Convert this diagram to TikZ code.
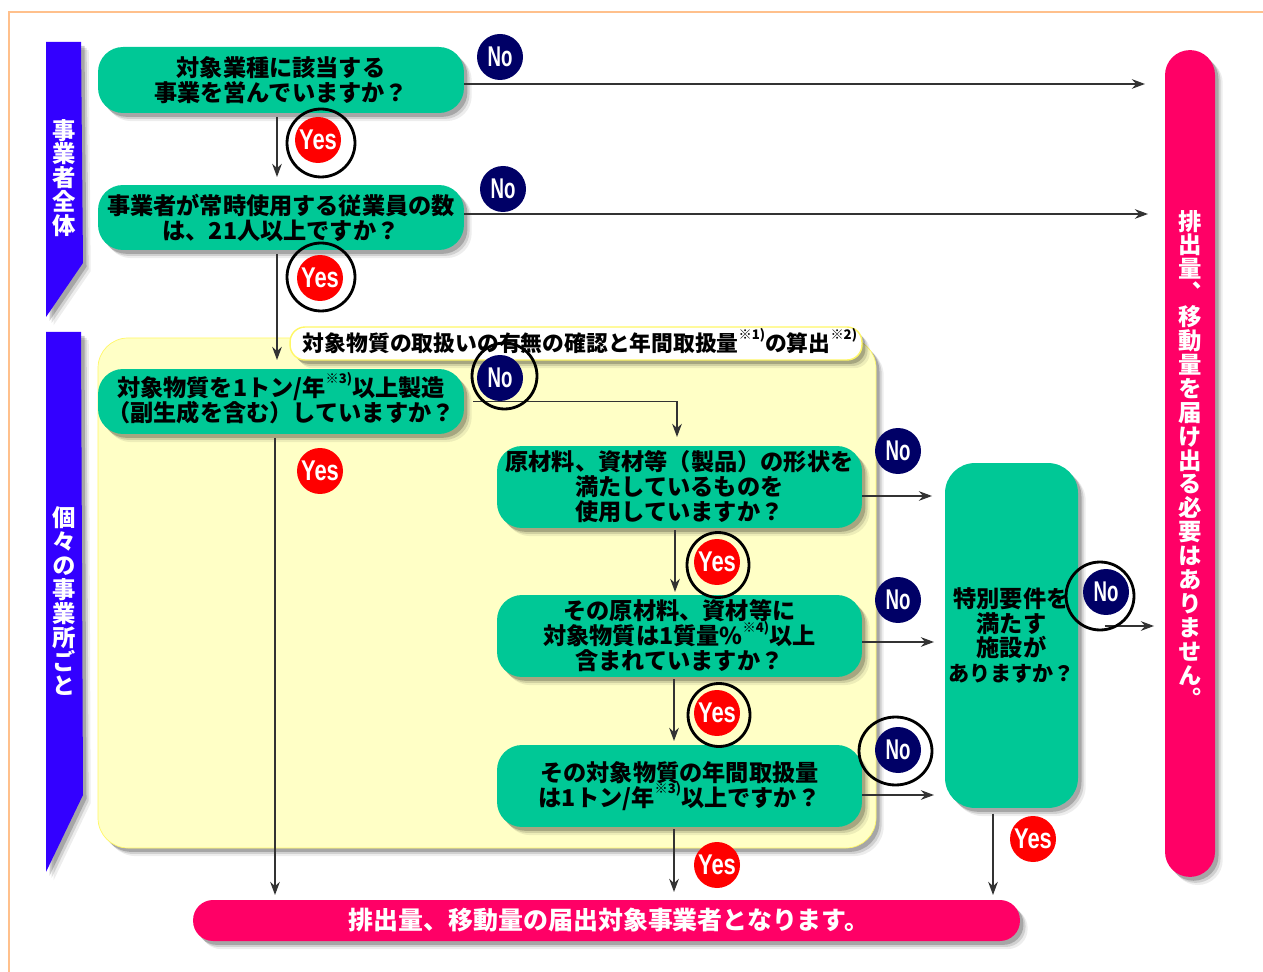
\documentclass[tikz,border=0pt]{standalone}
\usepackage{fontspec}
\setmainfont{Noto Sans CJK JP}
\setsansfont{Liberation Sans}
\newfontfamily\tatefont[RawFeature=+vert]{Noto Sans CJK JP}
\usetikzlibrary{arrows.meta,shadows,shapes.geometric}
\definecolor{qgreen}{HTML}{00C896}
\definecolor{tagblue}{HTML}{3300FF}
\definecolor{endpink}{HTML}{FF0066}
\definecolor{panelyellow}{HTML}{FFFFC6}
\definecolor{noblue}{HTML}{000066}
\definecolor{frameorange}{HTML}{FFC08C}
\newcommand{\kome}[1]{\smash{\raisebox{1ex}{\fontsize{7.5}{7.5}\selectfont ※#1)}}}
\newcommand{\yesmark}{\scalebox{1}[1.3]{Yes}}
\newcommand{\nomark}{\scalebox{.85}[1.3]{No}}
\tikzset{
    softshadow/.style={drop shadow={shadow xshift=4.4pt,shadow yshift=-4.6pt,fill=black,opacity=.07},
        drop shadow={shadow xshift=3.2pt,shadow yshift=-3.4pt,fill=black,opacity=.12},
        drop shadow={shadow xshift=2pt,shadow yshift=-2.2pt,fill=black,opacity=.2}},
    question/.style={fill=qgreen,rounded corners=.5cm,softshadow,inner sep=0pt,align=center,
        font=\fontsize{13.2}{14.2}\selectfont\bfseries},
    endbox/.style={fill=endpink,softshadow,inner sep=0pt,align=center,text=white,
        font=\fontsize{14.2}{14.2}\selectfont\bfseries},
    tagtext/.style={inner sep=0pt,align=center,text=white,
        font=\tatefont\fontsize{13.3}{13.6}\selectfont\bfseries},
    badge/.style={circle,inner sep=0pt,minimum size=.92cm,text=white,
        font=\sffamily\fontsize{12.5}{12.5}\selectfont\bfseries},
    yesbadge/.style={badge,fill=red},
    nobadge/.style={badge,fill=noblue},
    ring/.style={ellipse,draw=black,line width=1.6pt,fill=none,inner sep=0pt},
    link/.style={->,draw=black!80,line width=.8pt},
}
\begin{document}
\begin{tikzpicture}[x=.02cm,y=-.02cm,>={Stealth[length=7.5pt,width=5.5pt]}]
\useasboundingbox (0,0) rectangle (1263,972);
\draw[frameorange,line width=.7pt](9,972)--(9,12)--(1263,12);

% side tags
\fill[tagblue,softshadow](46,42)--(81,42)--(83,263)--(46,317)--cycle;
\fill[tagblue,softshadow](46,332)--(81,332)--(83,795)--(46,872)--cycle;
\node[tagtext] (tagall) at (64,178) {事\\業\\者\\全\\体};
\node[tagtext] (tageach) at (64,601) {個\\々\\の\\事\\業\\所\\ご\\と};

% yellow panel
\fill[panelyellow,draw=yellow!60,rounded corners=.6cm,softshadow](98,338) rectangle (876,848);
\node[fill=white,draw=yellow!60,line width=.8pt,rounded corners=.3cm,softshadow,minimum width=11.44cm,minimum height=.66cm,
    inner sep=0pt,font=\fontsize{12.4}{14}\selectfont\bfseries] (title) at (576,343.5)
    {\hspace*{.16cm}対象物質の取扱いの有無の確認と年間取扱量\kome{1}の算出\kome{2}};

% questions
\node[question,minimum width=7.32cm,minimum height=1.32cm] (q1) at (281,80) {対象業種に該当する\\事業を営んでいますか？};
\node[question,minimum width=7.32cm,minimum height=1.3cm] (q2) at (281,217.5) {事業者が常時使用する従業員の数\\は、21人以上ですか？};
\node[question,minimum width=7.32cm,minimum height=1.3cm] (q3) at (281,401.5) {対象物質を1トン/年\kome{3}以上製造\\（副生成を含む）していますか？\rule[-3pt]{0pt}{0pt}};
\node[question,minimum width=7.3cm,minimum height=1.64cm] (q4) at (679.5,487) {原材料、資材等（製品）の形状を\\満たしているものを\\使用していますか？};
\node[question,minimum width=7.3cm,minimum height=1.64cm] (q5) at (679.5,636) {その原材料、資材等に\\対象物質は1質量\%\kome{4}以上\\含まれていますか？};
\node[question,minimum width=7.3cm,minimum height=1.64cm] (q6) at (679.5,786) {その対象物質の年間取扱量\\は1トン/年\kome{3}以上ですか？};
\node[question,rounded corners=.6cm,minimum width=2.66cm,minimum height=6.9cm] (special) at (1011.5,635.5) {特別要件を\\満たす\\施設が\\{\fontsize{12}{14.2}\selectfont ありますか？}};

% results
\node[endbox,rounded corners=.4cm,minimum width=16.54cm,minimum height=.82cm] (resultyes) at (606.5,920.5) {排出量、移動量の届出対象事業者となります。\hspace*{-.1cm}};
\node[fill=endpink,rounded corners=.5cm,softshadow,minimum width=1cm,minimum height=16.54cm,inner sep=0pt] (resultno) at (1190,463.5) {};
\node[tagtext] (resultnotext) at (1190,459) {排\\出\\量\\、\\移\\動\\量\\を\\届\\け\\出\\る\\必\\要\\は\\あ\\り\\ま\\せ\\ん\\。};

% free ends
\coordinate (e1) at (1145,84);
\coordinate (e2) at (1148,214);
\coordinate (d1) at (277,177);
\coordinate (d2) at (277,360);
\coordinate (d3) at (275,895);
\coordinate (d4) at (677,437);
\coordinate (d5) at (675,592);
\coordinate (d6) at (674,741);
\coordinate (d7) at (674,892);
\coordinate (d8) at (993,895);
\coordinate (s4) at (932,496);
\coordinate (s5) at (934,642);
\coordinate (s6) at (934,795);
\coordinate (e3) at (1154,626);

\draw[link](q1.east|-e1)--(e1);
\draw[link](q2.east|-e2)--(e2);
\draw[link,shorten <=2pt](q1.south-|d1)--(d1);
\draw[link,shorten <=2pt](q2.south-|d2)--(d2);
\draw[link,shorten <=2pt](q3.south-|d3)--(d3);
\draw[link,shorten <=5pt](q3.east)-|(d4);
\draw[link,shorten <=1pt](q4.south-|d5)--(d5);
\draw[link,shorten <=1pt](q5.south-|d6)--(d6);
\draw[link,shorten <=1pt](q6.south-|d7)--(d7);
\draw[link,shorten <=3pt](special.south-|d8)--(d8);
\draw[link](q4.east|-s4)--(s4);
\draw[link](q5.east|-s5)--(s5);
\draw[link](q6.east|-s6)--(s6);
\draw[link,shorten <=15pt](special.east|-e3)--(e3);

% answers
\foreach \x/\y/\n in {318/140/a,320/278/b,320/471/c,717/562/d,717/713/e,717/865/f,1033/839/g}
{
    \node[yesbadge] (yes\n) at (\x,\y) {\yesmark};
}
\foreach \x/\y/\n in {500/57/a,503/189/b,500/378/c,898/451/d,898/600/e,898/750/f,1106/592/g}
{
    \node[nobadge] (no\n) at (\x,\y) {\nomark};
}

% marks on the scan
\foreach \x/\y/\w/\h/\n in {321/143/1.36/1.36/a,321/277/1.36/1.36/b,718/565/1.24/1.3/c,719/715/1.24/1.26/d,504.5/376/1.3/1.32/e,895.5/751/1.46/1.36/f,1100/596/1.36/1.36/g}
{
    \node[ring,minimum width=\w cm,minimum height=\h cm] (ring\n) at (\x,\y) {};
}
\end{tikzpicture}
\end{document}
